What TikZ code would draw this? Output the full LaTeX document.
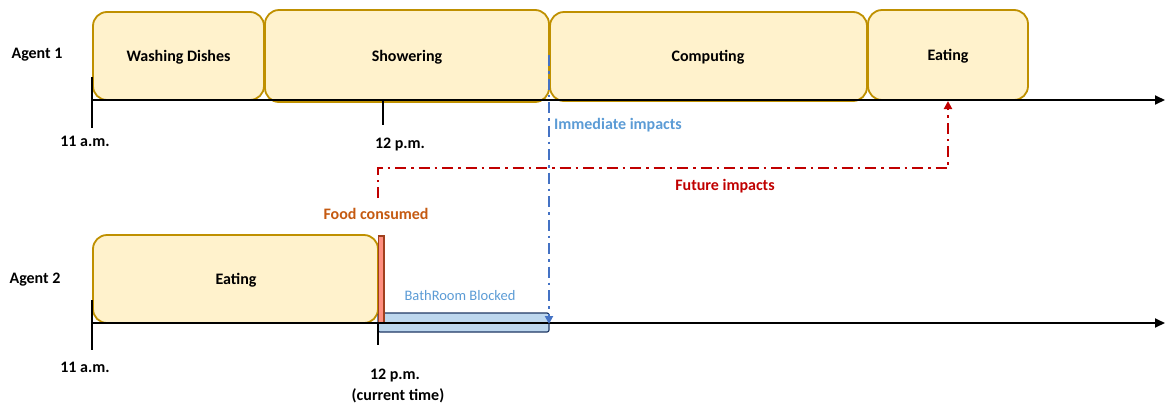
\documentclass[tikz,border=0pt]{standalone}
\usepackage{fontspec}
\setmainfont{Carlito}
\usetikzlibrary{arrows.meta}
\definecolor{actfill}{HTML}{FFF2CC}
\definecolor{actdraw}{HTML}{BF9000}
\definecolor{impblue}{HTML}{4472C4}
\definecolor{lblblue}{HTML}{5B9BD5}
\definecolor{futred}{HTML}{C00000}
\definecolor{foodorange}{HTML}{C55A11}
\definecolor{blkfill}{HTML}{BDD7EE}
\definecolor{blkdraw}{HTML}{1F3864}
\definecolor{foodfill}{HTML}{FF8F80}
\definecolor{fooddraw}{HTML}{A0401E}
\tikzset{
  act/.style={draw=actdraw, fill=actfill, line width=1.8pt, rounded corners=14pt},
  lbl/.style={font=\fontsize{16}{18}\selectfont\bfseries, inner sep=0pt},
  axis/.style={line width=1.8pt, -{Triangle[length=10pt,width=9pt]}},
  tick/.style={line width=1.8pt},
  dashdot/.style={line width=2.8pt, dash pattern=on 11pt off 5pt on 2.5pt off 5pt},
}
\begin{document}
\begin{tikzpicture}[x=1pt,y=-1pt]
\useasboundingbox (0,0) rectangle (1165,405);
% Agent 1 boxes
\draw[act] (93,12) rectangle (264,100);
\draw[act] (265,10) rectangle (549,102);
\draw[act] (550,12) rectangle (867,101);
\draw[act] (868,10) rectangle (1028,100);
\node[lbl] (wd) at (178.5,57) {Washing Dishes};
\node[lbl] (sh) at (407,57) {Showering};
\node[lbl] (co) at (708,57) {Computing};
\node[lbl] (e1) at (948,56) {Eating};
\node[lbl] (a1) at (37,55) {Agent 1};
% top axis
\coordinate (t0) at (92,100);
\coordinate (tend) at (1165,100);
\draw[axis] (t0) -- (tend);
\draw[tick] (92,77) -- (92,128);
\draw[tick] (383,100) -- (383,125);
\node[lbl] (t11) at (85,141) {11 a.m.};
\node[lbl] (t12) at (400,145) {12 p.m.};
% Agent 2
\draw[act] (93,235) rectangle (378,323);
\node[lbl] (e2) at (236,280) {Eating};
\node[lbl] (a2) at (35,280) {Agent 2};
\draw[line width=1.2pt, draw=blkdraw, fill=blkfill, rounded corners=2pt] (378,313) rectangle (549,332);
\draw[line width=1.2pt, draw=fooddraw, fill=foodfill] (378.5,236) rectangle (384,323);
\coordinate (b0) at (92,323);
\coordinate (bend) at (1165,323);
\draw[axis] (b0) -- (bend);
\draw[tick] (92,300) -- (92,350);
\draw[tick] (378,323) -- (378,345);
\node[lbl] (b11) at (85,367) {11 a.m.};
\node[lbl] (b12) at (395,376) {12 p.m.};
\node[lbl] (cur) at (398,396) {(current time)};
\node[font=\fontsize{14.5}{16}\selectfont, text=lblblue, inner sep=0pt] (bb) at (460,296) {BathRoom Blocked};
% immediate impacts
\coordinate (iS) at (549,55);
\coordinate (iE) at (549,324);
\draw[dashdot, draw=impblue, -{Triangle[length=8pt,width=8pt]}] (iS) -- (iE);
\node[lbl, text=lblblue] (imm) at (618,125) {Immediate impacts};
% future impacts
\coordinate (fS) at (378,198);
\coordinate (fE) at (948,101);
\draw[dashdot, draw=futred, -{Triangle[length=8pt,width=8pt]}] (fS) -- (378,168) -- (948,168) -- (fE);
\node[lbl, text=futred] (fut) at (725,186) {Future impacts};
\node[lbl, text=foodorange] (food) at (376,214) {Food consumed};
\end{tikzpicture}
\end{document}
